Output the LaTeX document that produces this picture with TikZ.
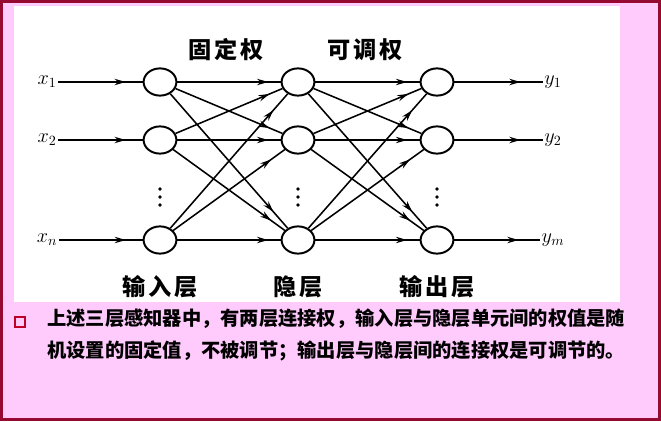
\documentclass[tikz,border=0pt]{standalone}
\usepackage{fontspec}
\newfontfamily\cjk{Noto Sans CJK SC}
\newfontfamily\cjklab[LetterSpace=12]{Noto Sans CJK SC}
\usetikzlibrary{arrows.meta,shapes.geometric,decorations.markings}
\definecolor{pinkbg}{RGB}{255,202,252}
\definecolor{maroon}{RGB}{150,10,50}
\definecolor{bulletred}{RGB}{190,0,40}
\tikzset{
  neuron/.style={ellipse,draw,line width=1.4pt,minimum width=8.2mm,minimum height=6.8mm,inner sep=0pt},
  link/.style={line width=1.1pt,postaction={decorate},
    decoration={markings,mark=at position #1 with {\arrow{Stealth[length=2.8mm,width=1.6mm]}}}},
  link/.default=0.88,
  var/.style={font=\Large,inner sep=1pt},
  lab/.style={font=\cjklab\bfseries\fontsize{16.5}{19}\selectfont},
  note/.style={font=\cjk\bfseries\fontsize{13.7}{22.4}\selectfont,align=left,inner sep=0pt},
}
\begin{document}
\begin{tikzpicture}[x=0.025cm,y=-0.025cm]
  \useasboundingbox (0,0) rectangle (661,421);
  % slide background
  \fill[pinkbg] (0,0) rectangle (661,421);
  \fill[white] (14,6) rectangle (620,302);
  \draw[maroon,line width=1.6pt] (1.5,1.5) rectangle (659.5,419.5);
  % three layers
  \foreach \k/\y in {1/82,2/140,3/240} {
    \node[neuron] (i\k) at (160,\y) {};
    \node[neuron] (h\k) at (298,\y) {};
    \node[neuron] (o\k) at (437,\y) {};
  }
  \foreach \x in {160,298,437}
    \foreach \y in {189,197,205} \fill (\x,\y) circle (1.4pt);
  % inputs and outputs
  \foreach \k/\y/\xs/\ys in {1/82/1/1,2/140/2/2,3/240/n/m} {
    \node[var] (x\k) at (47,\y) {$x_{\xs}$};
    \node[var] (y\k) at (553,\y) {$y_{\ys}$};
    \draw[link=0.8] (x\k.east) -- (i\k);
    \draw[link=0.75] (o\k) -- (y\k.west);
  }
  % full connections
  \foreach \a in {1,2,3}
    \foreach \b in {1,2,3} {
      \draw[link] (i\a) -- (h\b);
      \draw[link] (h\a) -- (o\b);
    }
  % labels
  \node[lab] (fixw) at (226,50) {固定权};
  \node[lab] (adjw) at (365,50) {可调权};
  \node[lab] (inlab) at (160,287) {输入层};
  \node[lab] (hidlab) at (298,287) {隐层};
  \node[lab] (outlab) at (437,287) {输出层};
  % note below
  \node[draw=bulletred,line width=1.2pt,minimum size=2.5mm,inner sep=0pt] (bul) at (20,322) {};
  \node[note,anchor=north west] (note) at (47,309) {上述三层感知器中，有两层连接权，输入层与隐层单元间的权值是随\\机设置的固定值，不被调节；输出层与隐层间的连接权是可调节的。};
\end{tikzpicture}
\end{document}
